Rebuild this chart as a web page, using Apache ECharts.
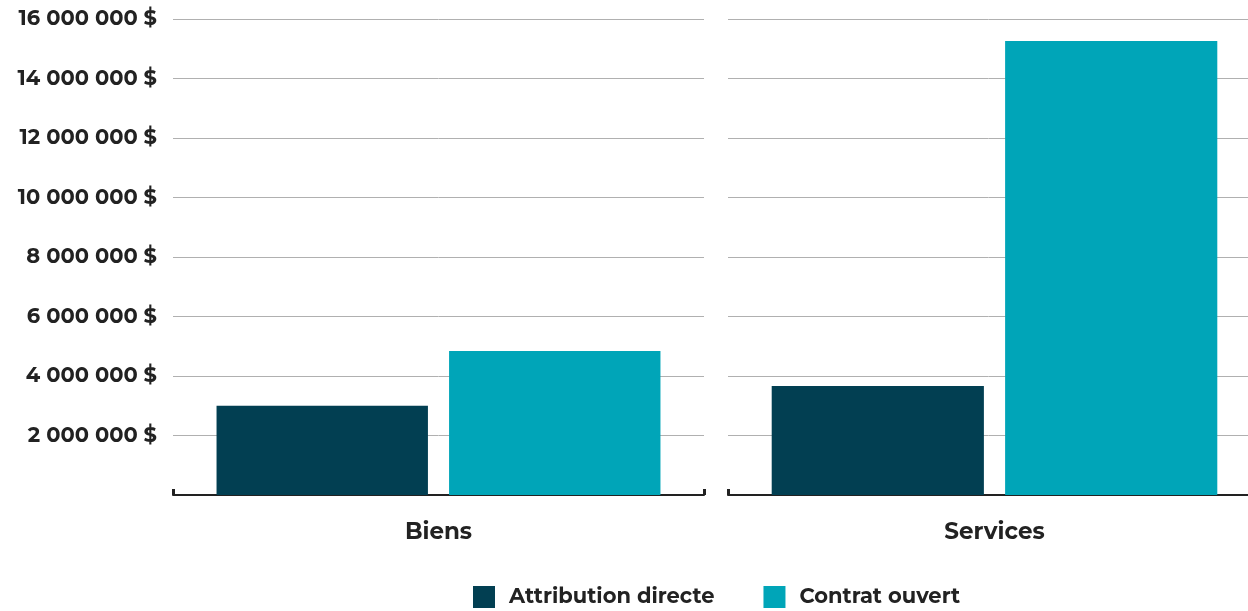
<!DOCTYPE html>
<html><head><meta charset="utf-8">
<script src="https://cdn.jsdelivr.net/npm/echarts@6/dist/echarts.min.js"></script>
<style>html,body{margin:0;padding:0;background:#fff}#c{width:1248px;height:611px}</style>
</head><body><div id="c"></div>
<script>
const categories = ['Biens', 'Services'];
const seriesNames = ['Attribution directe', 'Contrat ouvert'];
const attribution = [3000000, 3660000];
const contrat = [4840000, 15260000];
const yTicks = [0, 2000000, 4000000, 6000000, 8000000, 10000000, 12000000, 14000000, 16000000];

const colors = ['#023f52', '#00a5b8'];
const font = 'Montserrat, "Open Sans", sans-serif';
function fmt(v){ if(v===0) return ''; return String(v).replace(/\B(?=(\d{3})+(?!\d))/g,' ') + ' $'; }

const chart = echarts.init(document.getElementById('c'));
const grids = [
  {left:173, width:531, top:19, bottom:116, outerBoundsMode:'none'},
  {left:728, width:533, top:19, bottom:116, outerBoundsMode:'none'}
];
const xAxis = categories.map((c,i)=>({
  type:'category', gridIndex:i, data:[c],
  axisLine:{lineStyle:{color:'#222', width:2}},
  axisTick:{show:true, inside:true, length:6, lineStyle:{color:'#222', width:3}},
  axisLabel:{fontFamily:font, fontWeight:'bold', fontSize:23, color:'#222', margin:26}
}));
const yAxis = categories.map((c,i)=>({
  type:'value', gridIndex:i, min:yTicks[0], max:yTicks[yTicks.length-1], interval:2000000,
  axisLine:{show:false}, axisTick:{show:false},
  splitLine:{lineStyle:{color:'#b0b0b0', width:1}},
  axisLabel:{show:i===0, formatter:fmt, fontFamily:font, fontWeight:'bold', fontSize:21, color:'#222', margin:16}
}));
const series = [];
categories.forEach((c,i)=>{
  series.push({name:seriesNames[0], type:'bar', xAxisIndex:i, yAxisIndex:i, data:[attribution[i]], color:colors[0], barGap:'10%', barCategoryGap:'16.4%'});
  series.push({name:seriesNames[1], type:'bar', xAxisIndex:i, yAxisIndex:i, data:[contrat[i]], color:colors[1], barGap:'10%', barCategoryGap:'16.4%'});
});
chart.setOption({
  animation:false,
  color:colors,
  grid:grids, xAxis, yAxis, series,
  legend:{data:seriesNames, bottom:-2, left:468, itemWidth:22, itemHeight:22, itemGap:49, icon:'rect',
    textStyle:{fontFamily:font, fontWeight:'bold', fontSize:21, color:'#222', padding:[0,0,0,9]}}
});
</script></body></html>
